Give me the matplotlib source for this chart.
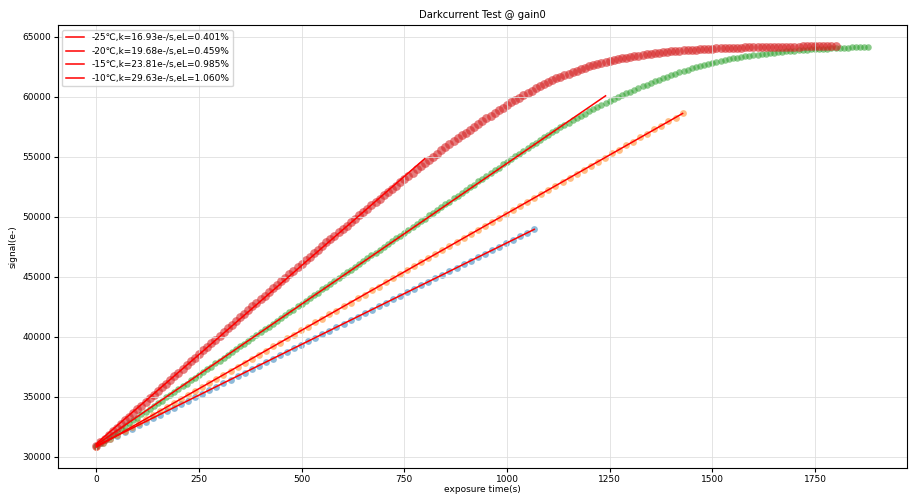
import numpy as np
import matplotlib.pyplot as plt

plt.rcParams['font.family'] = ['DejaVu Sans', 'Noto Sans CJK SC']
plt.rcParams['font.size'] = 6.5

# Legend labels (one per temperature)
labels = ['-25℃,k=16.93e-/s,eL=0.401%',
          '-20℃,k=19.68e-/s,eL=0.459%',
          '-15℃,k=23.81e-/s,eL=0.985%',
          '-10℃,k=29.63e-/s,eL=1.060%']

# -25C: exposure step 17.2 s
t25_step = 17.2
sig25 = [30900, 31180, 31500, 31760, 32080, 32340, 32660, 32920, 33250, 33500,
         33830, 34090, 34410, 34670, 34990, 35250, 35580, 35830, 36160, 36420,
         36740, 37000, 37330, 37580, 37910, 38160, 38490, 38750, 39080, 39330,
         39660, 39910, 40240, 40490, 40820, 41070, 41400, 41650, 41990, 42240,
         42570, 42820, 43150, 43400, 43740, 43990, 44320, 44570, 44900, 45150,
         45480, 45730, 46070, 46310, 46650, 46900, 47230, 47480, 47810, 48060,
         48390, 48640, 48960]

# -20C: exposure step 17.2 s
t20_step = 17.2
sig20 = [30800, 31150, 31460, 31820, 32130, 32490, 32800, 33160, 33470, 33830,
         34140, 34500, 34810, 35170, 35480, 35840, 36150, 36510, 36820, 37180,
         37490, 37850, 38160, 38520, 38830, 39190, 39500, 39860, 40170, 40540,
         40840, 41210, 41510, 41880, 42180, 42550, 42850, 43220, 43520, 43890,
         44190, 44560, 44860, 45230, 45530, 45900, 46200, 46570, 46870, 47240,
         47540, 47910, 48210, 48580, 48880, 49250, 49550, 49920, 50220, 50590,
         50890, 51260, 51560, 51930, 52230, 52600, 52900, 53270, 53570, 53940,
         54240, 54610, 54910, 55290, 55580, 55960, 56250, 56630, 56920, 57300,
         57590, 57970, 58260, 58620]

# -15C: exposure step 10 s
t15_step = 10
sig15 = [30900, 31150, 31360, 31620, 31840, 32100, 32310, 32570, 32780, 33050,
         33260, 33520, 33730, 33990, 34200, 34470, 34680, 34940, 35150, 35420,
         35630, 35890, 36100, 36370, 36570, 36840, 37050, 37310, 37520, 37790,
         38000, 38260, 38470, 38730, 38940, 39210, 39420, 39680, 39890, 40160,
         40370, 40630, 40840, 41100, 41310, 41580, 41790, 42050, 42260, 42530,
         42740, 43000, 43210, 43470, 43680, 43950, 44160, 44420, 44630, 44900,
         45110, 45370, 45580, 45850, 46050, 46320, 46530, 46790, 47000, 47270,
         47480, 47740, 47950, 48210, 48420, 48690, 48900, 49160, 49370, 49640,
         49850, 50110, 50320, 50580, 50790, 51060, 51270, 51530, 51740, 52010,
         52220, 52480, 52690, 52950, 53160, 53430, 53640, 53900, 54110, 54380,
         54590, 54825, 55050, 55275, 55500, 55725, 55950, 56175, 56400, 56625,
         56850, 57060, 57265, 57465, 57660, 57855, 58045, 58235, 58420, 58600,
         58780, 58960, 59135, 59308, 59478, 59645, 59810, 59972, 60130, 60285,
         60438, 60588, 60735, 60880, 61022, 61160, 61296, 61430, 61561, 61689,
         61815, 61935, 62052, 62165, 62275, 62380, 62480, 62576, 62668, 62756,
         62840, 62918, 62993, 63065, 63134, 63200, 63262, 63320, 63375, 63427,
         63476, 63523, 63568, 63610, 63650, 63688, 63724, 63758, 63790, 63820,
         63849, 63876, 63902, 63927, 63950, 63972, 63993, 64013, 64032, 64050,
         64067, 64083, 64098, 64112, 64125, 64137, 64148, 64158, 64167]

# -10C: exposure step 10 s
t10_step = 10
sig10 = [30900, 31210, 31505, 31820, 32130, 32425, 32740, 33045, 33350, 33650,
         33960, 34270, 34570, 34880, 35180, 35495, 35800, 36100, 36410, 36715,
         37020, 37330, 37630, 37940, 38240, 38555, 38860, 39160, 39470, 39770,
         40080, 40390, 40690, 41000, 41300, 41610, 41915, 42220, 42530, 42830,
         43140, 43435, 43730, 44025, 44320, 44615, 44910, 45205, 45500, 45795,
         46090, 46385, 46680, 46975, 47270, 47565, 47860, 48143, 48426, 48709,
         48992, 49275, 49558, 49841, 50124, 50407, 50690, 50973, 51256, 51526,
         51796, 52066, 52336, 52606, 52876, 53146, 53416, 53686, 53956, 54226,
         54496, 54756, 55016, 55276, 55536, 55796, 56050, 56300, 56545, 56785,
         57020, 57260, 57498, 57734, 57968, 58200, 58430, 58658, 58884, 59108,
         59325, 59535, 59742, 59945, 60145, 60340, 60530, 60715, 60895, 61070,
         61240, 61388, 61532, 61672, 61808, 61940, 62067, 62190, 62308, 62422,
         62532, 62632, 62728, 62820, 62908, 62992, 63070, 63143, 63212, 63275,
         63334, 63392, 63446, 63499, 63549, 63596, 63640, 63681, 63719, 63754,
         63787, 63818, 63847, 63874, 63899, 63922, 63944, 63964, 63983, 64001,
         64018, 64034, 64049, 64063, 64076, 64088, 64099, 64109, 64118, 64127,
         64135, 64143, 64150, 64157, 64163, 64169, 64175, 64180, 64185, 64190,
         64194, 64198, 64202, 64206, 64209, 64212, 64215, 64218, 64220, 64222,
         64224]

# linear fit range (s) for each temperature
fit_end = [1070, 1430, 1240, 800]

series = [(t25_step, sig25, 'tab:blue', 24, 0.5),
          (t20_step, sig20, 'tab:orange', 24, 0.5),
          (t15_step, sig15, 'tab:green', 22, 0.55),
          (t10_step, sig10, 'tab:red', 40, 0.6)]

fig = plt.figure(figsize=(9.1, 4.94), dpi=100)
ax = fig.add_subplot(111)
fig.subplots_adjust(left=0.0634, right=0.9967, bottom=0.0532, top=0.949)

for (step, sig, col, size, a), lab, tend in zip(series, labels, fit_end):
    t = np.arange(len(sig)) * step
    s = np.array(sig, dtype=float)
    ax.scatter(t, s, s=size, color=col, alpha=a, linewidths=0)
    m = t <= tend
    k, b = np.polyfit(t[m], s[m], 1)
    tf = np.array([0, t[m].max()])
    ax.plot(tf, k * tf + b, color='red', lw=1.1, label=lab)

ax.set_xlim(-94, 1974)
ax.set_ylim(29083, 65975)
ax.grid(True, color='#dddddd', lw=0.7, alpha=0.8)
ax.tick_params(pad=2, length=3)
ax.set_title('Darkcurrent Test @ gain0', fontsize=7.2, pad=5)
ax.set_xlabel('exposure time(s)', labelpad=1)
ax.set_ylabel('signal(e-)', labelpad=3)
ax.legend(loc='upper left', fontsize=6.5)

plt.savefig('out.png', dpi=100)
